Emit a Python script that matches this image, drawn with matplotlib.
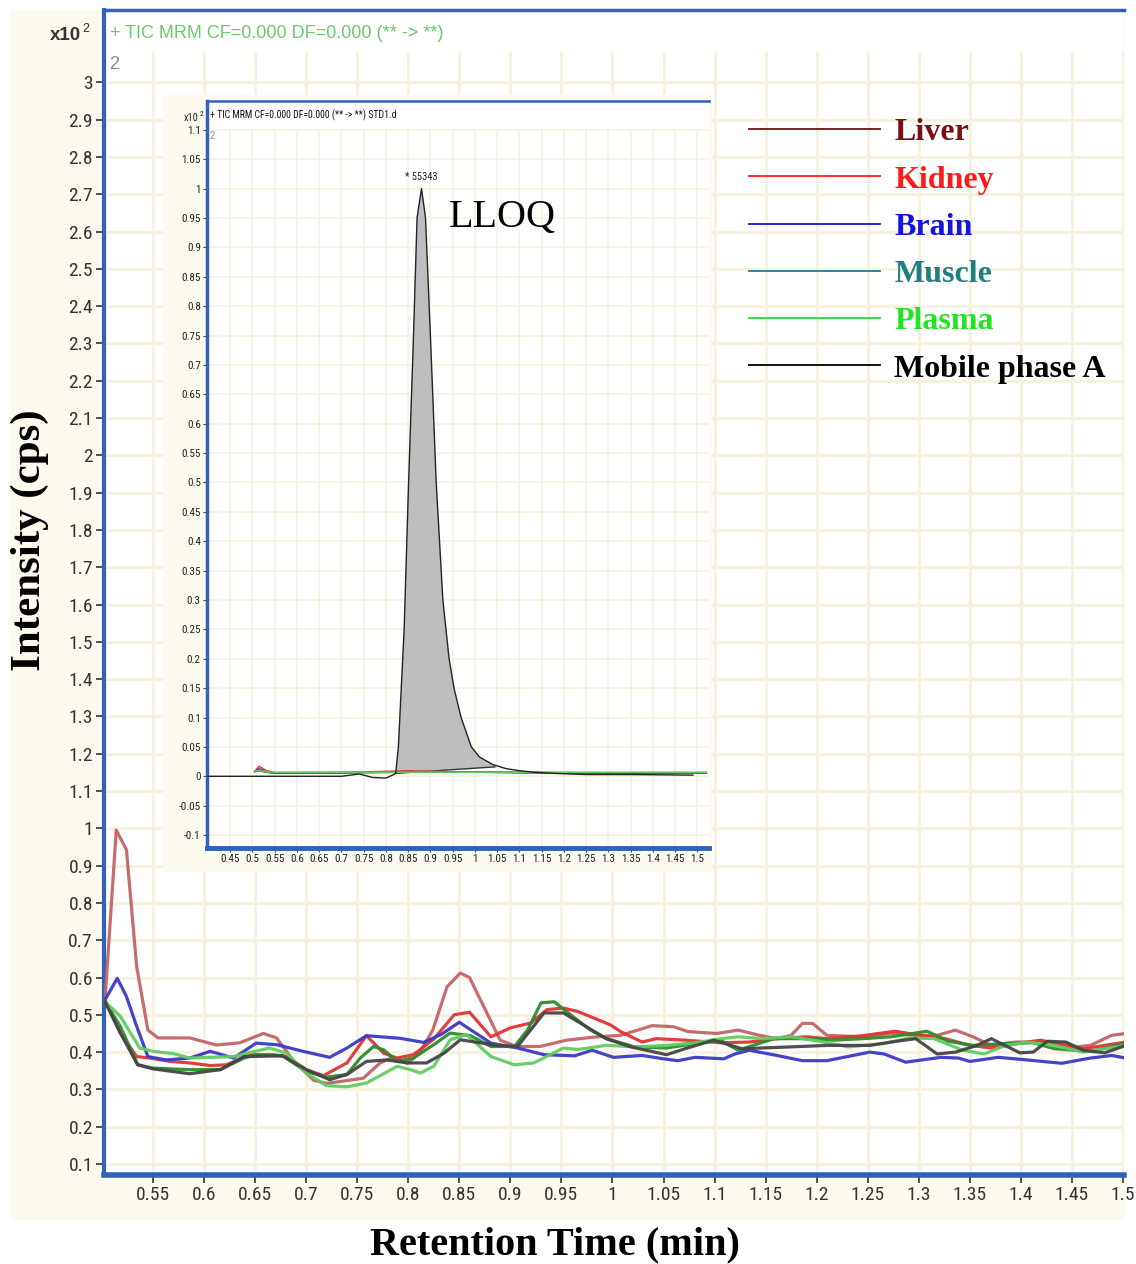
import os
import numpy as np
import matplotlib
matplotlib.use("Agg")
import matplotlib.pyplot as plt
from matplotlib import font_manager as fm
from matplotlib.patches import Rectangle
from matplotlib.lines import Line2D

# ---- main chromatogram traces (retention time in min, intensity x10^2 cps) ----
liver_x = [0.503, 0.514, 0.524, 0.534, 0.545, 0.555, 0.586, 0.612, 0.635, 0.658,
           0.671, 0.687, 0.707, 0.720, 0.756, 0.772, 0.785, 0.799, 0.811, 0.824,
           0.838, 0.851, 0.860, 0.877, 0.890, 0.906, 0.929, 0.955, 0.981, 1.008,
           1.039, 1.060, 1.074, 1.102, 1.123, 1.144, 1.161, 1.175, 1.186, 1.196,
           1.210, 1.245, 1.273, 1.297, 1.318, 1.336, 1.353, 1.371, 1.395, 1.430,
           1.454, 1.468, 1.489, 1.503]
liver_y = [0.54, 0.995, 0.942, 0.629, 0.459, 0.438, 0.438, 0.419, 0.425, 0.45,
           0.438, 0.379, 0.325, 0.316, 0.33, 0.37, 0.387, 0.37, 0.397, 0.459,
           0.575, 0.612, 0.60, 0.505, 0.432, 0.415, 0.415, 0.432, 0.44, 0.445,
           0.471, 0.468, 0.455, 0.45, 0.459, 0.445, 0.436, 0.445, 0.477, 0.477,
           0.445, 0.441, 0.45, 0.445, 0.445, 0.459, 0.441, 0.418, 0.427, 0.427,
           0.414, 0.418, 0.445, 0.45]

kidney_x = [0.503, 0.518, 0.534, 0.547, 0.567, 0.586, 0.606, 0.622, 0.645, 0.668,
            0.681, 0.700, 0.717, 0.740, 0.759, 0.776, 0.789, 0.805, 0.825, 0.845,
            0.860, 0.881, 0.900, 0.920, 0.936, 0.952, 0.966, 0.998, 1.008, 1.029,
            1.043, 1.071, 1.106, 1.134, 1.161, 1.190, 1.210, 1.245, 1.277, 1.301,
            1.326, 1.350, 1.371, 1.406, 1.420, 1.440, 1.461, 1.482, 1.503]
kidney_y = [0.54, 0.451, 0.388, 0.384, 0.375, 0.371, 0.364, 0.366, 0.393, 0.393,
            0.388, 0.353, 0.337, 0.371, 0.444, 0.397, 0.384, 0.393, 0.435, 0.50,
            0.507, 0.441, 0.465, 0.478, 0.514, 0.518, 0.509, 0.473, 0.455, 0.427,
            0.436, 0.432, 0.425, 0.427, 0.436, 0.441, 0.436, 0.444, 0.456, 0.445,
            0.436, 0.418, 0.411, 0.427, 0.432, 0.418, 0.409, 0.418, 0.427]

brain_x = [0.503, 0.515, 0.524, 0.534, 0.545, 0.563, 0.586, 0.606, 0.629, 0.651,
           0.671, 0.697, 0.723, 0.740, 0.759, 0.792, 0.815, 0.832, 0.850, 0.861,
           0.881, 0.907, 0.933, 0.963, 0.980, 1.001, 1.029, 1.050, 1.064, 1.081,
           1.109, 1.120, 1.134, 1.161, 1.186, 1.210, 1.252, 1.266, 1.287, 1.322,
           1.339, 1.350, 1.378, 1.406, 1.440, 1.468, 1.489, 1.503]
brain_y = [0.54, 0.598, 0.549, 0.469, 0.388, 0.379, 0.384, 0.402, 0.384, 0.424,
           0.42, 0.402, 0.386, 0.411, 0.444, 0.437, 0.426, 0.447, 0.48, 0.46,
           0.424, 0.411, 0.393, 0.39, 0.405, 0.386, 0.391, 0.382, 0.377, 0.386,
           0.382, 0.395, 0.405, 0.391, 0.377, 0.377, 0.40, 0.395, 0.373, 0.386,
           0.384, 0.375, 0.386, 0.379, 0.37, 0.384, 0.391, 0.384]

muscle_x = [0.503, 0.518, 0.535, 0.550, 0.586, 0.616, 0.639, 0.651, 0.677, 0.700,
            0.720, 0.740, 0.753, 0.766, 0.776, 0.789, 0.805, 0.825, 0.841, 0.861,
            0.881, 0.904, 0.917, 0.930, 0.943, 0.959, 0.978, 0.994, 1.022, 1.053,
            1.081, 1.106, 1.123, 1.158, 1.189, 1.217, 1.245, 1.273, 1.308, 1.329,
            1.353, 1.385, 1.412, 1.433, 1.468, 1.503]
muscle_y = [0.535, 0.469, 0.366, 0.357, 0.353, 0.353, 0.384, 0.393, 0.39, 0.348,
            0.333, 0.34, 0.384, 0.415, 0.406, 0.375, 0.384, 0.42, 0.451, 0.444,
            0.415, 0.415, 0.46, 0.532, 0.535, 0.50, 0.46, 0.436, 0.414, 0.411,
            0.423, 0.432, 0.405, 0.436, 0.436, 0.432, 0.436, 0.441, 0.456, 0.429,
            0.418, 0.423, 0.425, 0.409, 0.402, 0.423]

plasma_x = [0.503, 0.518, 0.537, 0.550, 0.570, 0.586, 0.606, 0.629, 0.645, 0.664,
            0.681, 0.700, 0.720, 0.740, 0.759, 0.776, 0.789, 0.802, 0.812, 0.825,
            0.841, 0.857, 0.881, 0.904, 0.923, 0.952, 0.966, 0.994, 1.022, 1.053,
            1.081, 1.106, 1.123, 1.147, 1.175, 1.203, 1.231, 1.266, 1.290, 1.315,
            1.343, 1.364, 1.385, 1.406, 1.433, 1.461, 1.482, 1.503]
plasma_y = [0.535, 0.496, 0.411, 0.402, 0.396, 0.384, 0.386, 0.388, 0.399, 0.411,
            0.397, 0.344, 0.31, 0.307, 0.317, 0.342, 0.362, 0.353, 0.344, 0.362,
            0.433, 0.447, 0.388, 0.366, 0.371, 0.411, 0.407, 0.418, 0.414, 0.418,
            0.425, 0.436, 0.441, 0.436, 0.441, 0.429, 0.414, 0.423, 0.438, 0.436,
            0.405, 0.395, 0.418, 0.427, 0.418, 0.40, 0.409, 0.418]

mobile_x = [0.503, 0.518, 0.535, 0.550, 0.586, 0.616, 0.639, 0.677, 0.700, 0.723,
            0.740, 0.759, 0.779, 0.799, 0.818, 0.835, 0.851, 0.868, 0.887, 0.907,
            0.920, 0.933, 0.952, 0.966, 0.994, 1.018, 1.053, 1.071, 1.099, 1.127,
            1.175, 1.210, 1.252, 1.273, 1.297, 1.318, 1.336, 1.357, 1.371, 1.399,
            1.412, 1.426, 1.444, 1.461, 1.482, 1.503]
mobile_y = [0.535, 0.451, 0.366, 0.355, 0.342, 0.353, 0.388, 0.39, 0.353, 0.326,
            0.34, 0.375, 0.379, 0.371, 0.371, 0.397, 0.433, 0.426, 0.418, 0.415,
            0.46, 0.505, 0.505, 0.482, 0.436, 0.414, 0.393, 0.409, 0.432, 0.409,
            0.414, 0.418, 0.418, 0.427, 0.436, 0.395, 0.40, 0.418, 0.436, 0.398,
            0.40, 0.429, 0.427, 0.405, 0.398, 0.418]

# ---- inset: LLOQ standard (STD1.d) ----
std_x = [0.400, 0.500, 0.600, 0.700, 0.740, 0.770, 0.800, 0.815, 0.822, 0.828,
         0.841, 0.851, 0.862, 0.870, 0.880, 0.889, 0.900, 0.913, 0.928, 0.942,
         0.953, 0.969, 0.992, 1.010, 1.040, 1.070, 1.096, 1.130, 1.176, 1.250,
         1.350, 1.490]
std_y = [0.0, 0.0, 0.0, 0.0, 0.004, -0.002, -0.003, 0.002, 0.005, 0.05,
         0.25, 0.5, 0.75, 0.95, 1.0, 0.95, 0.75, 0.5, 0.3, 0.2,
         0.15, 0.1, 0.05, 0.033, 0.02, 0.013, 0.01, 0.007, 0.005, 0.003,
         0.003, 0.002]
base_x = [0.822, 1.045]
base_y = [0.005, 0.016]
peak_rt = 0.880
peak_h = 1.0
peak_label = "* 55343"

inset_x = [0.505, 0.515, 0.53, 0.55, 0.70, 0.85, 1.00, 1.20, 1.40, 1.52]
inset_liver = [0.008, 0.010, 0.008, 0.006, 0.007, 0.009, 0.007, 0.006, 0.006, 0.006]
inset_kidney = [0.008, 0.017, 0.010, 0.006, 0.006, 0.009, 0.007, 0.006, 0.006, 0.006]
inset_brain = [0.008, 0.013, 0.008, 0.006, 0.006, 0.007, 0.007, 0.006, 0.005, 0.006]
inset_muscle = [0.008, 0.009, 0.007, 0.005, 0.006, 0.007, 0.007, 0.006, 0.006, 0.006]
inset_plasma = [0.009, 0.010, 0.008, 0.007, 0.007, 0.007, 0.007, 0.007, 0.007, 0.007]

names = ["Liver", "Kidney", "Brain", "Muscle", "Plasma", "Mobile phase A"]
trace_colors = ["#C46464", "#E03434", "#3A3AC4", "#2E8B2E", "#62CC62", "#454545"]
legend_colors = ["#7A1010", "#FF1A1A", "#1414E0", "#1F8080", "#22E522", "#000000"]

W, H = 1136, 1264
BLUE = "#2F62B8"
CREAM = "#FCF9EE"
GRID = "#F7F1DF"
SERIF = "Liberation Serif"


def narrow_font():
    # instrument software uses a narrow sans; take whichever condensed face exists
    wanted = ["LiberationSansNarrow-Regular", "RobotoCondensed-Regular",
              "DejaVuSansCondensed.ttf", "OpenSans_Condensed-Regular"]
    for key in wanted:
        for f in fm.fontManager.ttflist:
            if os.path.basename(f.fname).startswith(key):
                return dict(fontfamily=f.name, fontstretch=f.stretch)
    return dict(fontfamily="Liberation Sans")


NARROW = narrow_font()


def fx(px):
    return px / W


def fy(py):
    return 1 - py / H


fig = plt.figure(figsize=(W / 100, H / 100), dpi=100)
fig.patch.set_facecolor("white")
fig.add_artist(Rectangle((fx(10), fy(1220)), fx(1125) - fx(10), fy(10) - fy(1220),
                         transform=fig.transFigure, facecolor=CREAM,
                         edgecolor="none", zorder=-5))

# ---------------- main axes ----------------
ax = fig.add_axes([fx(104), fy(1175), (1124 - 104) / W, (1175 - 10) / H], zorder=0)
ax.set_facecolor("white")
ax.set_axisbelow(True)
ax.set_xlim(0.502, 1.501)
ax.set_ylim(0.0705, 3.194)

xt = np.round(np.arange(0.55, 1.501, 0.05), 2)
yt = np.round(np.arange(0.1, 3.001, 0.1), 1)
ax.set_xticks(xt, ["%g" % v for v in xt], fontsize=14, color="#333333", **NARROW)
ax.set_yticks(yt, ["%g" % v for v in yt], fontsize=14, color="#333333", **NARROW)
ax.tick_params(direction="out", length=6, width=1.3, color="#444444", pad=2)
ax.grid(True, color=GRID, lw=2.2)

for sp in ["left", "bottom", "top"]:
    ax.spines[sp].set_color(BLUE)
ax.spines["left"].set_linewidth(3)
ax.spines["bottom"].set_linewidth(4)
ax.spines["top"].set_linewidth(2.5)
ax.spines["right"].set_visible(False)

series = [(liver_x, liver_y), (kidney_x, kidney_y), (brain_x, brain_y),
          (muscle_x, muscle_y), (plasma_x, plasma_y), (mobile_x, mobile_y)]
for (xs, ys), c in zip(series, trace_colors):
    ax.plot(xs, ys, color=c, lw=2.3, alpha=0.95, zorder=3, solid_joinstyle="round")

# blank header strip above the grid
ax.add_patch(Rectangle((0, 0.964), 1, 0.036, transform=ax.transAxes,
                       facecolor="white", edgecolor="none", zorder=1))
ax.text(0.006, 0.980, '+ TIC MRM CF=0.000 DF=0.000 (** -> **)', transform=ax.transAxes,
        ha="left", va="center", fontsize=13, color="#6CC86C", fontfamily="Liberation Sans")
ax.text(0.005, 0.953, "2", transform=ax.transAxes, ha="left", va="center",
        fontsize=13, color="#8A8A8A", fontfamily="Liberation Sans", zorder=4)
fig.text(fx(81), fy(36), "x10", ha="right", va="center", fontsize=13.5,
         color="#333333", fontweight="bold", fontfamily="Liberation Sans")
fig.text(fx(82), fy(29), "2", ha="left", va="center", fontsize=9,
         color="#333333", fontfamily="Liberation Sans")

handles = [Line2D([], [], color=c, lw=1.3) for c in legend_colors]
ax.legend(handles, names, loc="upper left", bbox_to_anchor=(fx(749), fy(118)),
          bbox_transform=fig.transFigure, frameon=False,
          prop=dict(family=SERIF, weight="bold", size=23),
          handlelength=4.1, handletextpad=0.45, labelspacing=0.56,
          borderpad=0, borderaxespad=0, labelcolor=legend_colors)

fig.text(fx(30), fy(540), "Intensity (cps)", rotation=90, ha="center", va="center",
         fontsize=31, fontweight="bold", fontfamily=SERIF)
fig.text(fx(555), fy(1245), "Retention Time (min)", ha="center", va="center",
         fontsize=29, fontweight="bold", fontfamily=SERIF)

# ---------------- inset ----------------
fig.add_artist(Rectangle((fx(163), fy(872)), fx(712) - fx(163), fy(95) - fy(872),
                         transform=fig.transFigure, facecolor=CREAM,
                         edgecolor="none", zorder=2))
ins = fig.add_axes([fx(207), fy(848), (709 - 207) / W, (848 - 101) / H], zorder=3)
ins.set_facecolor("white")
ins.set_axisbelow(True)
ins.set_xlim(0.398, 1.526)
ins.set_ylim(-0.122, 1.149)
ixt = np.round(np.arange(0.45, 1.501, 0.05), 2)
iyt = np.round(np.arange(-0.1, 1.101, 0.05), 2)
ins.set_xticks(ixt, ["%g" % v for v in ixt], fontsize=8, color="#222222", **NARROW)
ins.set_yticks(iyt, ["%g" % v for v in iyt], fontsize=8, color="#222222", **NARROW)
ins.tick_params(direction="out", length=3, width=0.8, color="#444444", pad=1.5)
ins.grid(True, color=GRID, lw=1.2)
for sp in ["left", "bottom", "top"]:
    ins.spines[sp].set_color(BLUE)
ins.spines["left"].set_linewidth(2.5)
ins.spines["bottom"].set_linewidth(3.5)
ins.spines["top"].set_linewidth(1.8)
ins.spines["right"].set_visible(False)

xx = np.linspace(base_x[0], base_x[1], 400)
top = np.interp(xx, std_x, std_y)
bot = np.interp(xx, base_x, base_y)
ins.fill_between(xx, bot, top, facecolor="#BEBEBE", edgecolor="none", zorder=2)
ins.plot(base_x, base_y, color="#333333", lw=1, zorder=3)
ins.plot(std_x, std_y, color="#222222", lw=1, zorder=4)
for ys, c in zip([inset_liver, inset_kidney, inset_brain, inset_muscle, inset_plasma],
                 trace_colors[:5]):
    ins.plot(inset_x, ys, color=c, lw=1.1, zorder=3)

ins.text(peak_rt, peak_h + 0.012, peak_label, ha="center", va="bottom", fontsize=7.5,
         color="#222222", **NARROW)
ins.text(1.062, 0.951, "LLOQ", ha="center", va="center", fontsize=29,
         fontfamily=SERIF, color="black")

ins.add_patch(Rectangle((0, 0.962), 1, 0.038, transform=ins.transAxes,
                        facecolor="white", edgecolor="none", zorder=1))
ins.text(0.006, 0.981, "+ TIC MRM CF=0.000 DF=0.000 (** -> **) STD1.d",
         transform=ins.transAxes, ha="left", va="center", fontsize=7,
         color="#111111", **NARROW)
ins.text(0.006, 0.953, "2", transform=ins.transAxes, ha="left", va="center",
         fontsize=7, color="#8A8A8A", fontfamily="Liberation Sans", zorder=4)
fig.text(fx(199), fy(118), "x10", ha="right", va="center", fontsize=7.5,
         color="#222222", **NARROW)
fig.text(fx(200), fy(114), "2", ha="left", va="center", fontsize=5.5,
         color="#222222", **NARROW)

fig.savefig("out.png", dpi=100)
